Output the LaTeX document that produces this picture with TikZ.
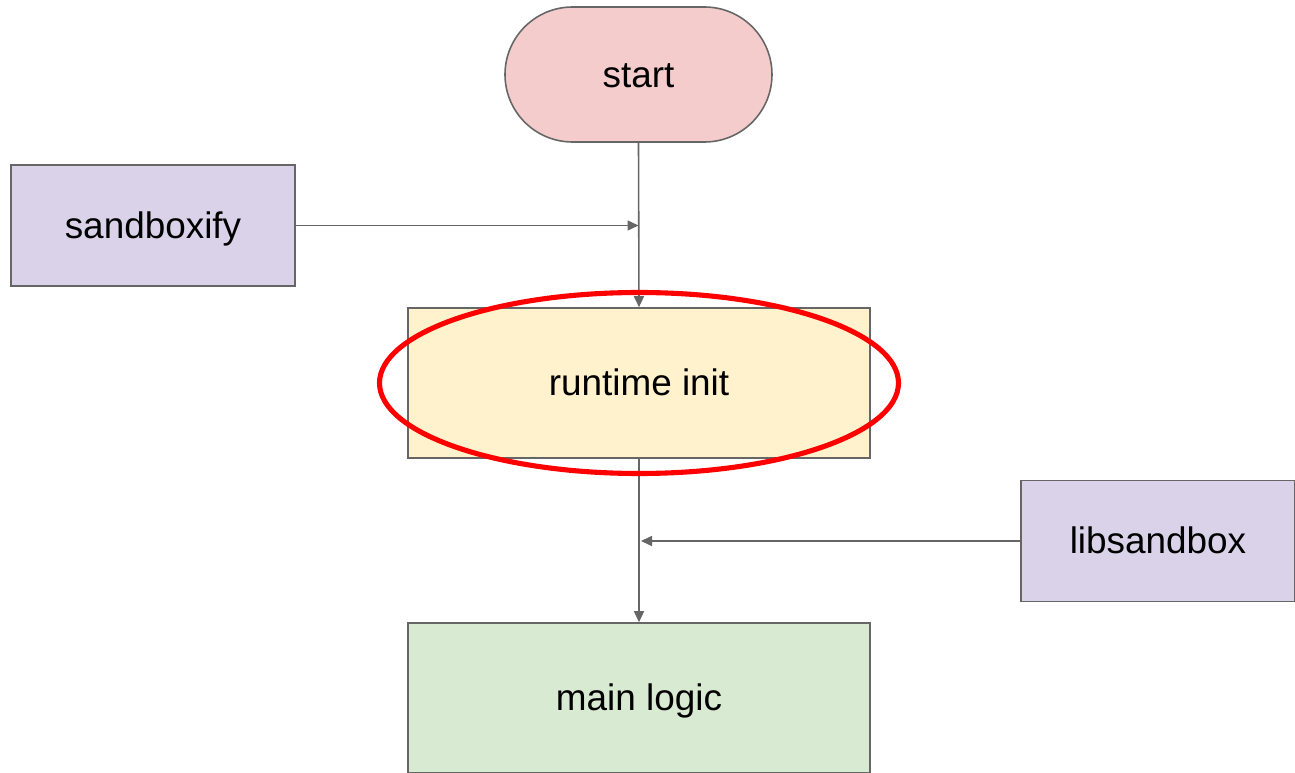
\documentclass[tikz,border=0pt]{standalone}
\usepackage{fontspec}
\setmainfont{Liberation Sans}
\usepackage{tikz}
\usetikzlibrary{%
arrows.meta,%
calc}

\definecolor{startpink}{HTML}{F4CCCC}
\definecolor{toolpurple}{HTML}{D9D2E9}
\definecolor{inityellow}{HTML}{FFF2CC}
\definecolor{maingreen}{HTML}{D9EAD3}
\definecolor{edgegray}{HTML}{666666}

\tikzset{
  box/.style={draw=edgegray,line width=0.45pt,font=\fontsize{10.5pt}{12pt}\selectfont,
    inner sep=0pt,align=center,text height=0.72em,text depth=0pt},
  link/.style={draw=edgegray,line width=0.45pt,-{Triangle[length=1.1mm,width=1mm]}}
}

\begin{document}
\begin{tikzpicture}
\useasboundingbox (0,0) rectangle (12.95,7.73);
\node[box,fill=startpink,rounded corners=0.675cm,minimum width=2.67cm,minimum height=1.35cm] (start) at (6.385,6.985) {start};
\node[box,fill=toolpurple,minimum width=2.84cm,minimum height=1.21cm] (sandboxify) at (1.53,5.475) {sandboxify};
\node[box,fill=inityellow,minimum width=4.62cm,minimum height=1.5cm] (runtime) at (6.39,3.9) {runtime init};
\node[box,fill=toolpurple,minimum width=2.74cm,minimum height=1.21cm] (libsandbox) at (11.58,2.32) {libsandbox};
\node[box,fill=maingreen,minimum width=4.62cm,minimum height=1.5cm] (mainlogic) at (6.39,0.75) {main logic};
\coordinate (join1) at (start.south |- sandboxify.east);
\coordinate (join2) at ($(runtime.south |- libsandbox.west)+(0.02,0)$);
% flow
\draw[link] (start.south) -- (runtime.north);
\draw[link] (sandboxify.east) -- (join1);
\draw[link] (runtime.south) -- (mainlogic.north);
\draw[link] (libsandbox.west) -- (join2);
% highlight
\draw[red,line width=1.45pt] (runtime.center) ellipse [x radius=2.595cm,y radius=0.905cm];
\end{tikzpicture}
\end{document}
